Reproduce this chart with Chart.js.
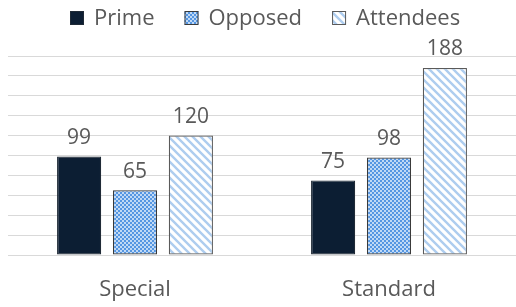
<!DOCTYPE html>
<html>
<head>
<meta charset="utf-8">
<script src="https://cdn.jsdelivr.net/npm/chart.js@4.4.1/dist/chart.umd.min.js"></script>
<style>
  html, body { margin: 0; padding: 0; background: #ffffff; }
  #wrap { width: 516px; height: 307px; }
</style>
</head>
<body>
<div id="wrap"><canvas id="barChart" width="516" height="307"></canvas></div>
<script>
const categories = ['Special', 'Standard'];
const primeValues = [99, 75];
const opposedValues = [65, 98];
const attendeesValues = [120, 188];
const yTicks = [0, 20, 40, 60, 80, 100, 120, 140, 160, 180, 200];

const textColor = '#595959';
const fontFamily = '"Open Sans", "Liberation Sans", sans-serif';

// small tile patterns for the hatched bars
function checkerPattern() {
    const tile = document.createElement('canvas');
    tile.width = 4;
    tile.height = 4;
    const c = tile.getContext('2d');
    c.fillStyle = '#c0d9f5';
    c.fillRect(0, 0, 4, 4);
    c.fillStyle = '#5596e2';
    c.fillRect(0, 0, 2, 2);
    c.fillRect(2, 2, 2, 2);
    return c.createPattern(tile, 'repeat');
}

function stripePattern() {
    const size = 8;
    const tile = document.createElement('canvas');
    tile.width = size;
    tile.height = size;
    const c = tile.getContext('2d');
    c.fillStyle = '#ffffff';
    c.fillRect(0, 0, size, size);
    c.strokeStyle = '#aecdef';
    c.lineWidth = 2.4;
    c.beginPath();
    c.moveTo(-2, -2);
    c.lineTo(size + 2, size + 2);
    c.moveTo(-2, size - 2);
    c.lineTo(2, size + 2);
    c.moveTo(size - 2, -2);
    c.lineTo(size + 2, 2);
    c.stroke();
    return c.createPattern(tile, 'repeat');
}

const valueLabelPlugin = {
    id: 'value_labels',
    afterDatasetsDraw: function (chart) {
        const ctx = chart.ctx;
        ctx.save();
        ctx.fillStyle = textColor;
        ctx.font = '21px ' + fontFamily;
        ctx.textAlign = 'center';
        ctx.textBaseline = 'bottom';
        chart.data.datasets.forEach(function (ds, i) {
            const meta = chart.getDatasetMeta(i);
            meta.data.forEach(function (bar, j) {
                ctx.fillText(ds.data[j], bar.x, bar.y - 8);
            });
        });
        ctx.restore();
    }
};

// legend drawn by hand so the item gaps can differ from the vertical spacing
const topLegendPlugin = {
    id: 'top_legend',
    afterDraw: function (chart) {
        const ctx = chart.ctx;
        const box = 14, textGap = 10, itemGap = 30, y = 18;
        ctx.save();
        ctx.font = '22px ' + fontFamily;
        const items = chart.data.datasets.map(function (ds) {
            return { ds: ds, w: box + textGap + ctx.measureText(ds.label).width };
        });
        const total = items.reduce(function (s, it) { return s + it.w; }, 0) + itemGap * (items.length - 1);
        let x = Math.round(chart.width / 2 + 7 - total / 2);
        items.forEach(function (it) {
            ctx.fillStyle = it.ds.backgroundColor;
            ctx.fillRect(x, y - 7, box, box);
            ctx.strokeStyle = it.ds.borderColor;
            ctx.lineWidth = 1;
            ctx.strokeRect(x + 0.5, y - 6.5, box - 1, box - 1);
            ctx.fillStyle = textColor;
            ctx.textAlign = 'left';
            ctx.textBaseline = 'middle';
            ctx.fillText(it.ds.label, x + box + textGap, y + 1);
            x += it.w + itemGap;
        });
        ctx.restore();
    }
};

const commonBar = {
    borderWidth: 1.2,
    borderSkipped: false,
    categoryPercentage: 0.66,
    barPercentage: 0.79
};

const ctx = document.getElementById('barChart');
new Chart(ctx, {
    type: 'bar',
    data: {
        labels: categories,
        datasets: [
            Object.assign({
                label: 'Prime',
                data: primeValues,
                backgroundColor: '#0c1e33',
                borderColor: '#1f2a36'
            }, commonBar),
            Object.assign({
                label: 'Opposed',
                data: opposedValues,
                backgroundColor: checkerPattern(),
                borderColor: '#3a3a3a'
            }, commonBar),
            Object.assign({
                label: 'Attendees',
                data: attendeesValues,
                backgroundColor: stripePattern(),
                borderColor: '#5a5a5a'
            }, commonBar)
        ]
    },
    plugins: [valueLabelPlugin, topLegendPlugin],
    options: {
        responsive: false,
        animation: false,
        layout: {
            padding: { left: 8, right: 0, top: 56, bottom: 0 }
        },
        scales: {
            x: {
                grid: { display: false, drawTicks: false },
                border: { display: false },
                ticks: {
                    color: textColor,
                    font: { size: 22, family: fontFamily },
                    padding: 22
                },
                afterFit: function (scale) {
                    scale.height = 52;
                }
            },
            y: {
                min: 0,
                max: 200,
                afterBuildTicks: function (scale) {
                    scale.ticks = yTicks.map(function (v) { return { value: v }; });
                },
                grid: { color: '#d9d9d9', lineWidth: 1, drawTicks: false },
                border: { display: false },
                ticks: { display: false }
            }
        },
        plugins: {
            legend: { display: false },
            tooltip: { enabled: false }
        }
    }
});
</script>
</body>
</html>
